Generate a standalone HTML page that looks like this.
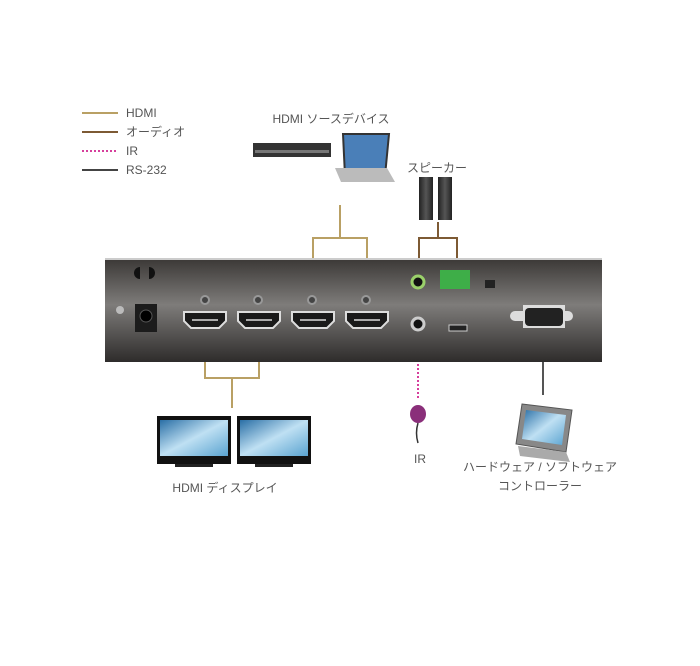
<!DOCTYPE html><html><head><meta charset="utf-8"><style>
body{margin:0;background:#fff;width:700px;height:661px;overflow:hidden;font-family:"Liberation Sans","Noto Sans CJK JP",sans-serif;}
svg text{font-family:"Liberation Sans","Noto Sans CJK JP",sans-serif;fill:#555;font-size:12px}
</style></head><body>
<svg width="700" height="661" viewBox="0 0 700 661">
<defs>
<linearGradient id="pn" x1="0" y1="0" x2="0" y2="1"><stop offset="0" stop-color="#3a3735"/><stop offset="0.45" stop-color="#7e7c7a"/><stop offset="1" stop-color="#2e2c2b"/></linearGradient>
<linearGradient id="scr" x1="0" y1="0" x2="1" y2="1"><stop offset="0" stop-color="#2a6fa6"/><stop offset="0.5" stop-color="#bfe0f3"/><stop offset="1" stop-color="#5aa3d0"/></linearGradient>
<linearGradient id="spk" x1="0" y1="0" x2="1" y2="0"><stop offset="0" stop-color="#222"/><stop offset="0.5" stop-color="#555"/><stop offset="1" stop-color="#222"/></linearGradient>
</defs>
<g stroke-width="2">
<line x1="82" y1="113" x2="118" y2="113" stroke="#b9a064"/>
<line x1="82" y1="132" x2="118" y2="132" stroke="#7d5a34"/>
<line x1="82" y1="151" x2="118" y2="151" stroke="#d63f9c" stroke-dasharray="2,2"/>
<line x1="82" y1="170" x2="118" y2="170" stroke="#444"/>
</g>
<text x="126" y="117">HDMI</text><text x="126" y="136">オーディオ</text><text x="126" y="155">IR</text><text x="126" y="174">RS-232</text>
<text x="331" y="123" text-anchor="middle">HDMI ソースデバイス</text>
<text x="437" y="172" text-anchor="middle">スピーカー</text>
<text x="225" y="492" text-anchor="middle">HDMI ディスプレイ</text>
<text x="420" y="463" text-anchor="middle">IR</text>
<text x="540" y="471" text-anchor="middle">ハードウェア / ソフトウェア</text>
<text x="540" y="490" text-anchor="middle">コントローラー</text>
<g stroke="#b9a064" stroke-width="2" fill="none">
<path d="M340 205V238M313 283V238H367V283"/>
<path d="M205 338V378H259V338M232 378V408"/>
</g>
<path d="M438 222V238M419 262V238H457V262" stroke="#7d5a34" stroke-width="2" fill="none"/>
<line x1="418" y1="336" x2="418" y2="398" stroke="#d63f9c" stroke-width="2" stroke-dasharray="2,2"/>
<line x1="543" y1="338" x2="543" y2="395" stroke="#555" stroke-width="2"/>
<rect x="105" y="258" width="497" height="104" fill="url(#pn)"/>
<rect x="105" y="258" width="497" height="2" fill="#ccc"/>
<path d="M140 267a6 6 0 0 0 0 12z" fill="#111"/><path d="M149 267a6 6 0 0 1 0 12z" fill="#111"/>
<circle cx="120" cy="310" r="4" fill="#bbb"/>
<rect x="135" y="304" width="22" height="28" fill="#1c1c1c"/><circle cx="146" cy="316" r="6" fill="#000" stroke="#555"/>
<g fill="#1a1a1a" stroke="#ddd" stroke-width="2">
<path d="M184 312h42v9l-7 7h-28l-7-7z"/><path d="M238 312h42v9l-7 7h-28l-7-7z"/>
<path d="M292 312h42v9l-7 7h-28l-7-7z"/><path d="M346 312h42v9l-7 7h-28l-7-7z"/>
</g>
<g stroke="#ddd" stroke-width="1.5"><line x1="192" y1="320" x2="218" y2="320"/><line x1="246" y1="320" x2="272" y2="320"/><line x1="300" y1="320" x2="326" y2="320"/><line x1="354" y1="320" x2="380" y2="320"/></g>
<g fill="#444" stroke="#999" stroke-width="2">
<circle cx="205" cy="300" r="4"/><circle cx="258" cy="300" r="4"/><circle cx="312" cy="300" r="4"/><circle cx="366" cy="300" r="4"/>
</g>
<circle cx="418" cy="282" r="6" fill="#111" stroke="#9ad06a" stroke-width="3"/>
<circle cx="418" cy="324" r="6" fill="#111" stroke="#ccc" stroke-width="3"/>
<rect x="440" y="270" width="30" height="19" fill="#3eae48"/>
<rect x="485" y="280" width="10" height="8" fill="#222"/>
<rect x="449" y="325" width="18" height="6" fill="#222" stroke="#ccc"/>
<path d="M510 316a5 5 0 0 1 5-5h8v-6h42v6h3a5 5 0 0 1 0 10h-3v7h-42v-7h-8a5 5 0 0 1-5-5z" fill="#ddd"/>
<rect x="525" y="308" width="38" height="18" rx="4" fill="#222"/>
<rect x="253" y="143" width="78" height="14" fill="#333"/><rect x="255" y="150" width="74" height="3" fill="#777"/>
<path d="M343 134h46l-4 42h-40z" fill="#4a7fb8" stroke="#333" stroke-width="2"/>
<path d="M335 168h52l8 14h-54z" fill="#bbb"/>
<rect x="419" y="177" width="14" height="43" fill="url(#spk)"/><rect x="438" y="177" width="14" height="43" fill="url(#spk)"/>
<g fill="#111"><rect x="157" y="416" width="74" height="48"/><rect x="237" y="416" width="74" height="48"/></g>
<rect x="160" y="420" width="68" height="36" fill="url(#scr)"/><rect x="240" y="420" width="68" height="36" fill="url(#scr)"/>
<rect x="175" y="464" width="38" height="3" fill="#222"/><rect x="255" y="464" width="38" height="3" fill="#222"/>
<ellipse cx="418" cy="414" rx="8" ry="9" fill="#8a2f7a"/><path d="M418 423q-3 10 0 20" stroke="#333" fill="none" stroke-width="1.5"/>
<path d="M522 404l50 6-6 42-50-8z" fill="#888" stroke="#555"/><path d="M526 410l40 5-4 30-40-6z" fill="url(#scr)"/>
<path d="M518 446l48 6 4 10-50-6z" fill="#aaa"/>
</svg></body></html>
